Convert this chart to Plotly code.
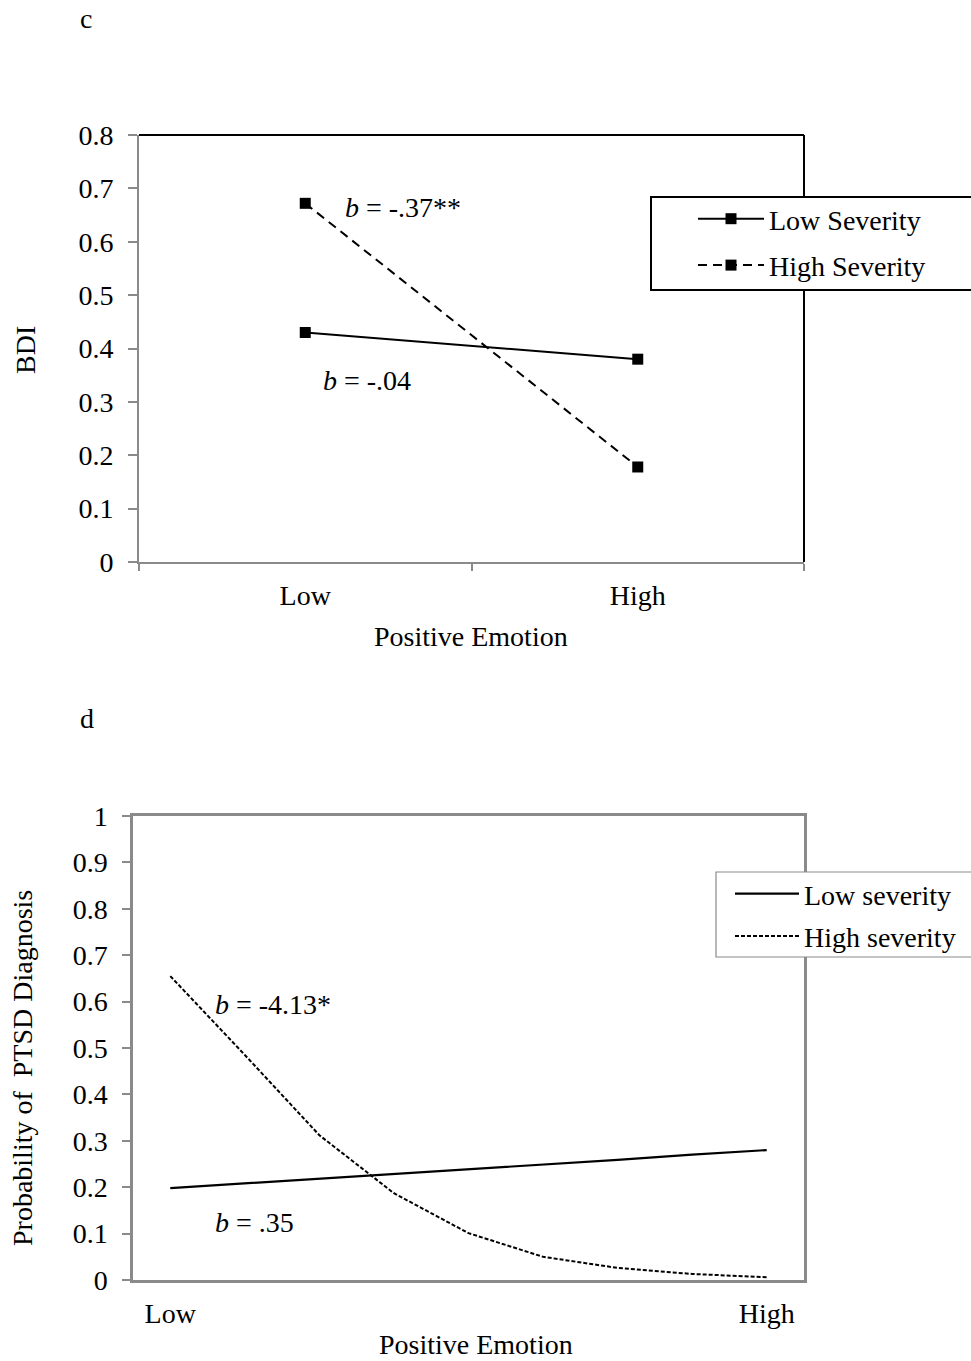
import plotly.graph_objects as go

W, H = 971, 1361
FONT = "Liberation Serif, Times New Roman, serif"
FS = 28

# ---- Panel c data ----
pe_levels_c = ["Low", "High"]
bdi_low_severity = [0.43, 0.38]
bdi_high_severity = [0.672, 0.178]
yticks_c = [0, 0.1, 0.2, 0.3, 0.4, 0.5, 0.6, 0.7, 0.8]

# ---- Panel d data ----
pe_levels_d = [0, 1, 2, 3, 4, 5, 6, 7, 8]
ptsd_low_severity = [0.198, 0.208, 0.218, 0.228, 0.238, 0.249, 0.259, 0.270, 0.280]
ptsd_high_severity = [0.655, 0.485, 0.312, 0.187, 0.101, 0.050, 0.026, 0.013, 0.006]
xtickvals_d = [0, 8]
xticktext_d = ["Low", "High"]
yticks_d = [0, 0.1, 0.2, 0.3, 0.4, 0.5, 0.6, 0.7, 0.8, 0.9, 1]


def px(x):
    return x / W


def py(y):
    return 1 - y / H


GRAY = "#8a8a8a"

fig = go.Figure()

fig.add_trace(go.Scatter(
    x=pe_levels_c, y=bdi_low_severity, name="Low Severity", mode="lines+markers",
    line=dict(color="black", width=2), marker=dict(symbol="square", size=11, color="black"),
    xaxis="x", yaxis="y", legend="legend", legendgroup="c1"))
fig.add_trace(go.Scatter(
    x=pe_levels_c, y=bdi_high_severity, name="High Severity", mode="lines+markers",
    line=dict(color="black", width=2, dash="9px,6px"), marker=dict(symbol="square", size=11, color="black"),
    xaxis="x", yaxis="y", legend="legend", legendgroup="c2"))

fig.add_trace(go.Scatter(
    x=pe_levels_d, y=ptsd_low_severity, name="Low severity", mode="lines",
    line=dict(color="black", width=2.2),
    xaxis="x2", yaxis="y2", legend="legend2", legendgroup="d1"))
fig.add_trace(go.Scatter(
    x=pe_levels_d, y=ptsd_high_severity, name="High severity", mode="lines",
    line=dict(color="black", width=2, dash="4px,2px"),
    xaxis="x2", yaxis="y2", legend="legend2", legendgroup="d2"))

tickfont = dict(family=FONT, size=FS, color="black")

fig.update_layout(
    template="none",
    width=W, height=H, autosize=False,
    margin=dict(l=0, r=0, t=0, b=0, pad=0),
    paper_bgcolor="white", plot_bgcolor="white",
    font=dict(family=FONT, size=FS, color="black"),
    xaxis=dict(
        domain=[px(139), px(804)], anchor="y", type="category", automargin=False,
        categoryorder="array", categoryarray=pe_levels_c, range=[-0.5, 1.5],
        tickson="boundaries", ticks="outside", ticklen=7, tickwidth=2, tickcolor=GRAY,
        showline=True, linecolor=GRAY, linewidth=2, showgrid=False, zeroline=False,
        tickfont=tickfont, ticklabelstandoff=7,
    ),
    yaxis=dict(
        domain=[py(562), py(135)], anchor="x", range=[0, 0.8], tickvals=yticks_c,
        automargin=False,
        ticks="outside", ticklen=9, tickwidth=2, tickcolor=GRAY,
        showline=True, linecolor=GRAY, linewidth=2, showgrid=False, zeroline=False,
        tickfont=tickfont, ticklabelstandoff=9,
    ),
    xaxis2=dict(
        domain=[px(133), px(804)], anchor="y2", range=[-0.5, 8.5], automargin=False,
        tickvals=xtickvals_d, ticktext=xticktext_d, ticks="",
        showline=True, mirror=True, linecolor=GRAY, linewidth=2.5, showgrid=False, zeroline=False,
        tickfont=tickfont, ticklabelstandoff=7,
    ),
    yaxis2=dict(
        domain=[py(1280), py(816)], anchor="x2", range=[0, 1], tickvals=yticks_d,
        automargin=False,
        ticks="outside", ticklen=8, tickwidth=2, tickcolor=GRAY,
        showline=True, mirror=True, linecolor=GRAY, linewidth=2.5, showgrid=False, zeroline=False,
        tickfont=tickfont, ticklabelstandoff=9,
    ),
    legend=dict(
        x=px(693), y=py(194), xanchor="left", yanchor="top",
        bgcolor="rgba(0,0,0,0)", borderwidth=0,
        font=dict(family=FONT, size=FS, color="black"),
        tracegroupgap=7, itemwidth=66, traceorder="grouped",
    ),
    legend2=dict(
        x=px(730), y=py(869), xanchor="left", yanchor="top",
        bgcolor="rgba(0,0,0,0)", borderwidth=0,
        font=dict(family=FONT, size=FS, color="black"),
        tracegroupgap=3, itemwidth=64, traceorder="grouped",
    ),
    showlegend=True,
)

# black top/right frame of panel c
fig.add_shape(type="line", xref="x domain", yref="y domain", x0=0, x1=1, y0=1, y1=1,
              line=dict(color="black", width=2), layer="below")
fig.add_shape(type="line", xref="x domain", yref="y domain", x0=1, x1=1, y0=0, y1=1,
              line=dict(color="black", width=2), layer="below")
# legend boxes (extend past the right edge like the original)
fig.add_shape(type="rect", xref="paper", yref="paper", x0=px(651), x1=px(985), y0=py(290), y1=py(197),
              line=dict(color="black", width=2), fillcolor="white", layer="above")
fig.add_shape(type="rect", xref="paper", yref="paper", x0=px(716), x1=px(985), y0=py(957), y1=py(872),
              line=dict(color=GRAY, width=1.2), fillcolor="white", layer="above")

annots = [
    dict(text="c", x=px(78), y=py(18), xanchor="left"),
    dict(text="d", x=px(78), y=py(718), xanchor="left"),
    dict(text="<i>b</i> = -.37**", x=px(343), y=py(207), xanchor="left"),
    dict(text="<i>b</i> = -.04", x=px(321), y=py(380), xanchor="left"),
    dict(text="<i>b</i> = -4.13*", x=px(213), y=py(1005), xanchor="left"),
    dict(text="<i>b</i> = .35", x=px(213), y=py(1222), xanchor="left"),
    dict(text="Positive Emotion", x=px(471), y=py(636), xanchor="center"),
    dict(text="Positive Emotion", x=px(476), y=py(1344), xanchor="center"),
    dict(text="BDI", x=px(25), y=py(350), xanchor="center", textangle=-90),
    dict(text="Probability of  PTSD Diagnosis", x=px(22), y=py(1068), xanchor="center", textangle=-90),
]
for a in annots:
    fig.add_annotation(xref="paper", yref="paper", yanchor="middle",
                       showarrow=False, font=dict(family=FONT, size=FS, color="black"), **a)

fig.write_html(
    "out.html",
    config={"displayModeBar": False},
    post_script="document.body.style.margin='0';document.body.style.overflow='hidden';",
)
